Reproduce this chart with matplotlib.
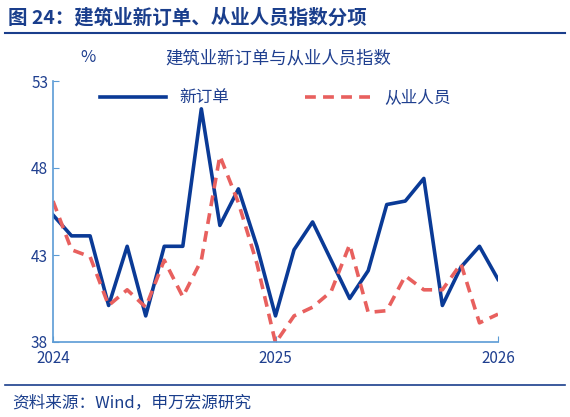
import matplotlib
matplotlib.use("Agg")
import matplotlib.pyplot as plt
from matplotlib.lines import Line2D

plt.rcParams['font.family'] = ['Noto Sans CJK SC', 'DejaVu Sans']

new_orders = [45.3, 44.1, 44.1, 40.1, 43.5, 39.5, 43.5, 43.5, 51.4, 44.7, 46.8, 43.5,
              39.5, 43.3, 44.9, 42.7, 40.5, 42.1, 45.9, 46.1, 47.4, 40.1, 42.3, 43.5, 41.6]
employment = [46.1, 43.3, 42.9, 40.1, 41.0, 40.0, 42.7, 40.6, 42.7, 48.7, 46.0, 42.5,
              37.95, 39.5, 40.0, 40.9, 43.6, 39.7, 39.8, 41.8, 41.0, 41.0, 42.5, 39.1, 39.6]
xticks = [0, 12, 24]
xticklabels = ['2024', '2025', '2026']
yticks = [38, 43, 48, 53]

W, H = 570, 417
fig = plt.figure(figsize=(W/100, H/100), dpi=100)
ax = fig.add_axes([53/W, 1-342/H, (498-53)/W, (342-81)/H])
x = list(range(len(new_orders)))
ax.plot(x, new_orders, color='#0a3a96', lw=2.6, label='新订单')
ax.plot(x, employment, color='#e8605e', lw=2.6, ls=(0, (3, 2)), label='从业人员')
ax.set_xlim(0, 24)
ax.set_ylim(38, 53)
ax.set_xticks(xticks)
ax.set_xticklabels(xticklabels)
ax.set_yticks(yticks)
axc = '#5b9bd5'
for s in ['top', 'right']:
    ax.spines[s].set_visible(False)
for s in ['left', 'bottom']:
    ax.spines[s].set_color(axc)
    ax.spines[s].set_linewidth(1.2)
ax.tick_params(colors=axc, labelcolor='#1f3f8f', labelsize=11, length=4, direction='in')
ax.tick_params(axis='x', pad=6)
ax.legend(loc='upper center', bbox_to_anchor=(0.5, 1.025), ncol=2, frameon=False,
          fontsize=12, labelcolor='#1f3f8f', handlelength=4, columnspacing=4.5)

fig.text(8/W, 1-18/H, '图 24：建筑业新订单、从业人员指数分项', fontsize=14, fontweight='bold',
         color='#1a3e8c', va='center')
fig.add_artist(Line2D([5/W, 565/W], [1-33/H, 1-33/H], color='#1a3e8c', lw=1.5))
fig.text(88/W, 1-58/H, '%', fontsize=12, color='#1f3f8f', va='center', ha='center')
fig.text(278/W, 1-58/H, '建筑业新订单与从业人员指数', fontsize=12.5, color='#1f3f8f', va='center', ha='center')
fig.add_artist(Line2D([5/W, 565/W], [1-385/H, 1-385/H], color='#1a3e8c', lw=1.2))
fig.text(12/W, 1-403/H, '资料来源：Wind，申万宏源研究', fontsize=12, color='#1a3e8c', va='center')
fig.savefig('out.png', dpi=100)
